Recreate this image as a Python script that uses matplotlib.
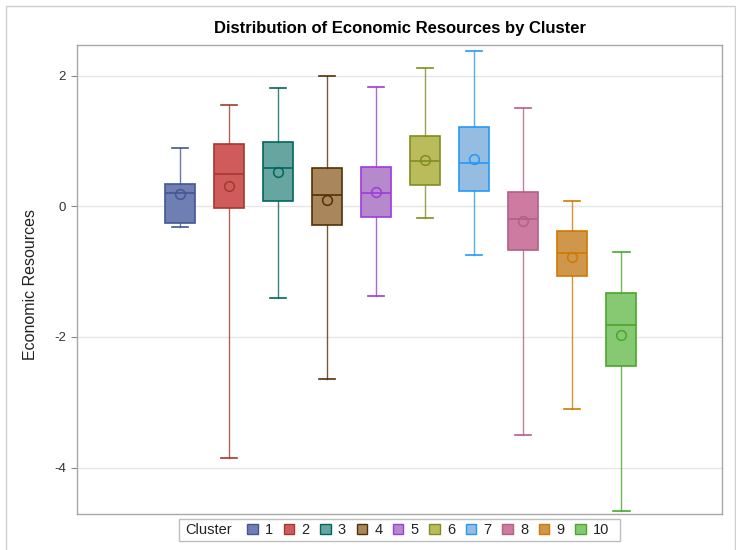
import matplotlib
matplotlib.use("Agg")
import matplotlib.pyplot as plt
from matplotlib.patches import Rectangle, Patch

plt.rcParams['font.family'] = ['Liberation Sans', 'DejaVu Sans']

# Summary statistics of Economic Resources per cluster
clusters = ["1", "2", "3", "4", "5", "6", "7", "8", "9", "10"]
whisker_low = [-0.31, -3.86, -1.41, -2.65, -1.37, -0.18, -0.74, -3.50, -3.10, -4.67]
q1 = [-0.25, -0.02, 0.08, -0.28, -0.17, 0.32, 0.235, -0.67, -1.06, -2.45]
median = [0.205, 0.50, 0.58, 0.17, 0.205, 0.69, 0.67, -0.20, -0.72, -1.81]
q3 = [0.34, 0.95, 0.985, 0.59, 0.60, 1.07, 1.22, 0.22, -0.38, -1.32]
whisker_high = [0.90, 1.55, 1.81, 2.00, 1.82, 2.12, 2.38, 1.51, 0.08, -0.70]
mean = [0.19, 0.31, 0.52, 0.10, 0.22, 0.71, 0.73, -0.22, -0.78, -1.97]

fill_colors = ["#6F7EB3", "#D05B5B", "#66A5A0", "#A9865B", "#B689CD",
               "#BABC5C", "#94BDE1", "#CD7BA1", "#CF974B", "#87C873"]
line_colors = ["#445694", "#A23A2E", "#01665E", "#543005", "#9D3CDB",
               "#7F8E1F", "#2597FA", "#B26084", "#D17800", "#47A82A"]

W, H = 736, 550
fig = plt.figure(figsize=(W / 100, H / 100), dpi=100)
fig.patch.set_facecolor("white")

ax = fig.add_axes([77 / W, 1 - 514 / H, (722 - 77) / W, (514 - 45) / H])

positions = list(range(1, len(clusters) + 1))
for i, pos in enumerate(positions):
    stats = [{
        "whislo": whisker_low[i], "q1": q1[i], "med": median[i],
        "q3": q3[i], "whishi": whisker_high[i], "mean": mean[i],
        "fliers": [], "label": clusters[i],
    }]
    lc = line_colors[i]
    ax.bxp(stats, positions=[pos], widths=0.61, patch_artist=True,
           showmeans=True, meanline=False, showfliers=False,
           boxprops=dict(facecolor=fill_colors[i], edgecolor=lc, linewidth=1.2),
           medianprops=dict(color=lc, linewidth=1.2),
           whiskerprops=dict(color=lc, linewidth=1.0, alpha=0.8),
           capprops=dict(color=lc, linewidth=1.2),
           capwidths=0.33,
           meanprops=dict(marker="o", markerfacecolor="none",
                          markeredgecolor=lc, markersize=7,
                          markeredgewidth=1.1),
           manage_ticks=False)

ax.set_xlim(-1.10, 12.05)
ax.set_ylim(-4.71, 2.47)
ax.set_xticks([])
ax.set_yticks([-4, -2, 0, 2])
ax.set_yticklabels(["-4", "-2", "0", "2"])
ax.tick_params(axis="y", length=4, width=0.8, color="#888888",
               labelsize=9.5, labelcolor="#333333", pad=4)
ax.yaxis.grid(True, color="#E6E6E6", linewidth=1.0)
ax.set_axisbelow(True)
for sp in ax.spines.values():
    sp.set_color("#A8A8A8")
    sp.set_linewidth(1.0)

ax.set_ylabel("Economic Resources", fontsize=11.5, color="#222222")
ax.yaxis.set_label_coords(-0.061, 0.49)

fig.text(400 / W, 1 - 29 / H, "Distribution of Economic Resources by Cluster",
         ha="center", va="center", fontsize=12, fontweight="bold",
         color="#000000")

# Outer graph border
fig.add_artist(Rectangle((6.5 / W, -0.05), (735 - 6.5) / W, 1.05 - 6 / H,
                         transform=fig.transFigure, fill=False,
                         edgecolor="#CFCFCF", linewidth=1.0))

# Legend frame with "Cluster" title on the left
fig.add_artist(Rectangle((178.5 / W, 1 - 540.5 / H), (620 - 178.5) / W,
                         (540.5 - 519) / H, transform=fig.transFigure,
                         fill=False, edgecolor="#BEBEBE", linewidth=1.0))
fig.text(185 / W, 1 - 530 / H, "Cluster", ha="left", va="center",
         fontsize=10.5, color="#222222")

handles = [Patch(facecolor=fill_colors[i], edgecolor=line_colors[i],
                 linewidth=1.0, label=clusters[i]) for i in range(len(clusters))]
fig.legend(handles=handles, ncol=len(clusters), frameon=False,
           loc="center left", bbox_to_anchor=(240 / W, 1 - 530 / H),
           fontsize=10.5, handlelength=0.72, handleheight=0.72,
           handletextpad=0.5, columnspacing=0.72, borderpad=0,
           labelcolor="#222222")

fig.savefig("out.png", dpi=100)
